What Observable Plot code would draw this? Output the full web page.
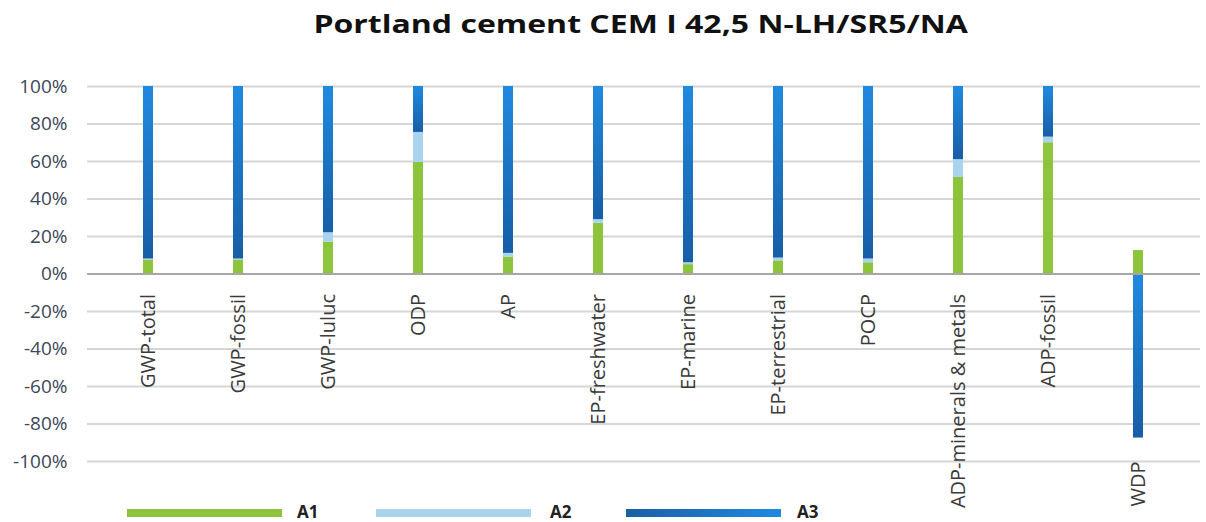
<!DOCTYPE html>
<html><head><meta charset="utf-8">
<script src="https://cdn.jsdelivr.net/npm/d3@7"></script>
<script src="https://cdn.jsdelivr.net/npm/@observablehq/plot@0.6"></script>
<style>
body{margin:0;background:#fff;font-family:"Open Sans",sans-serif;}
#wrap{position:relative;width:1206px;height:522px;overflow:hidden;}
#title{height:60px;line-height:46px;text-align:center;padding-left:76px;box-sizing:border-box;}
#title span{display:inline-block;font-size:25px;font-weight:bold;color:#111;transform:scaleX(1.28);}
.leg{position:absolute;top:509px;height:8px;width:155px;}
.legt{position:absolute;top:500px;font-size:17px;font-weight:bold;color:#222;}
</style></head>
<body><div id="wrap"><div id="title"><span>Portland cement CEM I 42,5 N-LH/SR5/NA</span></div><div id="chart"></div>
<div class="leg" style="left:127px;background:#8cc43c"></div><div class="legt" style="left:297px">A1</div>
<div class="leg" style="left:376px;background:#a9d4ee"></div><div class="legt" style="left:550px">A2</div>
<div class="leg" style="left:626px;background:linear-gradient(to right,#1a5fa6,#1f8ae0)"></div><div class="legt" style="left:797px">A3</div>
</div>
<script>
const categories = ["GWP-total","GWP-fossil","GWP-luluc","ODP","AP","EP-freshwater","EP-marine","EP-terrestrial","POCP","ADP-minerals & metals","ADP-fossil","WDP"];
const series = ["A1","A2","A3"];
const A1 = [7.5, 7.5, 17, 59.5, 9, 27, 5, 7, 6, 51.5, 70, 12.5];
const A2 = [0.5, 0.5, 5, 16, 2, 2, 1, 1.5, 2, 9.5, 3, 0];
const A3 = [92, 92, 78, 24.5, 89, 71, 94, 91.5, 92, 39, 27, -87.5];
const yTicks = [-100,-80,-60,-40,-20,0,20,40,60,80,100];

const rows = [];
categories.forEach((c,i)=>{
  rows.push({cat:c, s:"A1", v:A1[i]});
  rows.push({cat:c, s:"A2", v:A2[i]});
  rows.push({cat:c, s:"A3", v:A3[i]});
});
const labels = categories.map((c,i)=>({cat:c, neg:A3[i] < 0}));

const chart = Plot.plot({
  width:1206, height:462,
  marginTop:26, marginBottom:61, marginLeft:87, marginRight:6,
  style:{fontFamily:"Open Sans", background:"#fff"},
  x:{domain:categories, paddingInner:0.89, paddingOuter:0.445, insetLeft:16, insetRight:17, axis:null},
  y:{domain:[-100,100], ticks:yTicks, tickFormat:d=>d+"%", label:null},
  color:{domain:series, range:["#8cc43c","#a9d4ee","url(#gradA3)"]},
  marks:[
    Plot.gridY(yTicks.filter(d=>d!==0), {stroke:"#d6d6d6", strokeOpacity:1, strokeWidth:2}),
    Plot.axisY(yTicks, {tickSize:0, tickPadding:20, fontSize:19, fill:"#3d4757", tickFormat:d=>d+"%"}),
    Plot.barY(rows, Plot.stackY({x:"cat", y:"v", fill:"s", order:series})),
    Plot.ruleY([0], {stroke:"#a6a6a6", strokeWidth:2}),
    Plot.text(labels.filter(d=>!d.neg), {x:"cat", y:()=>0, text:"cat", rotate:-90, textAnchor:"end", dy:20, fontSize:20, fill:"#3a3a3a"}),
    Plot.text(labels.filter(d=>d.neg), {x:"cat", y:()=>-100, text:"cat", rotate:-90, textAnchor:"end", dy:0, fontSize:20, fill:"#3a3a3a"})
  ]
});
const svg = d3.select(chart);
const defs = svg.insert("defs", ":first-child");
const g = defs.append("linearGradient").attr("id","gradA3").attr("x1",0).attr("y1",0).attr("x2",0).attr("y2",1);
g.append("stop").attr("offset","0%").attr("stop-color","#1f8ae0");
g.append("stop").attr("offset","100%").attr("stop-color","#175ea6");
document.getElementById("chart").append(chart);
</script></body></html>
